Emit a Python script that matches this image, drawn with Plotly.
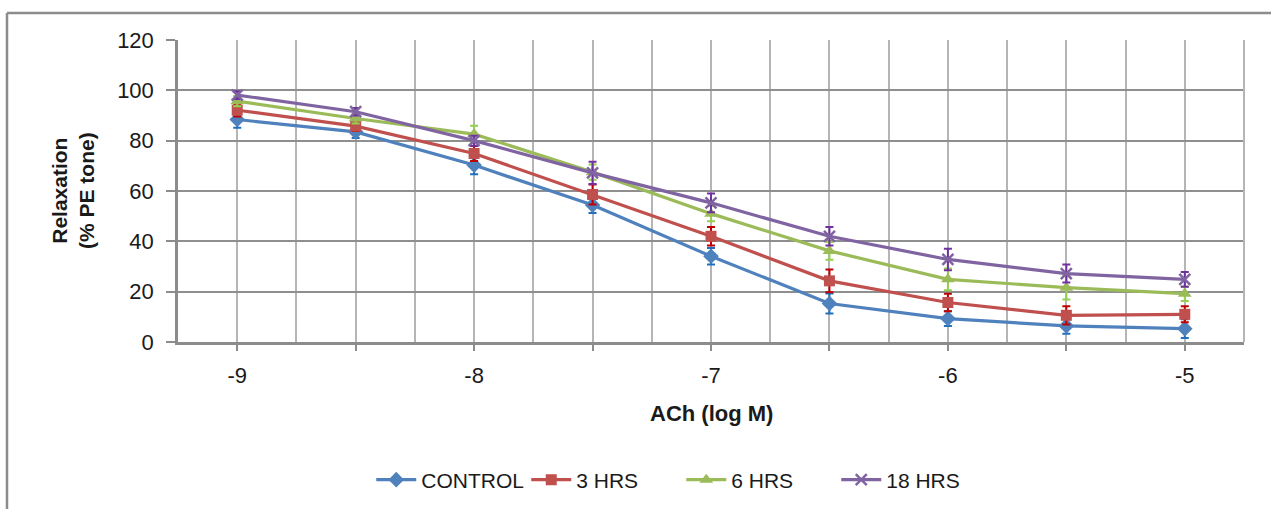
import plotly.graph_objects as go

# ---- data ----
log_m = [-9, -8.5, -8, -7.5, -7, -6.5, -6, -5.5, -5]
series_names = ["CONTROL", "3 HRS", "6 HRS", "18 HRS"]
control = [88.4, 83.5, 70.3, 54.4, 34.1, 15.3, 9.3, 6.4, 5.3]
hrs3 = [92.1, 85.8, 74.9, 58.6, 42.0, 24.3, 15.7, 10.6, 11.0]
hrs6 = [95.7, 88.8, 82.6, 67.5, 51.0, 36.2, 24.9, 21.6, 19.2]
hrs18 = [98.1, 91.5, 80.0, 67.2, 55.3, 42.0, 32.8, 27.2, 24.9]
control_err = [3.3, 2.4, 3.6, 3.1, 3.3, 4.0, 2.9, 3.1, 3.7]
hrs3_err = [2.5, 2.0, 3.0, 4.0, 3.7, 4.5, 3.5, 3.6, 3.2]
hrs6_err = [2.0, 2.0, 3.3, 3.0, 3.0, 3.5, 4.3, 4.7, 2.9]
hrs18_err = [1.5, 1.5, 2.0, 4.4, 3.7, 3.7, 4.3, 3.6, 2.9]
x_tickvals = [-9, -8.5, -8, -7.5, -7, -6.5, -6, -5.5, -5]
x_ticktext = ["-9", "", "-8", "", "-7", "", "-6", "", "-5"]
y_tickvals = [0, 20, 40, 60, 80, 100, 120]

FONT = "Liberation Sans, Arial, sans-serif"

styles = [
    dict(color="#4f81bd", err="#1f6fc0", symbol="diamond", size=12),
    dict(color="#c0504d", err="#c00000", symbol="square", size=11),
    dict(color="#9bbb59", err="#92d050", symbol="triangle-up", size=12),
    dict(color="#8064a2", err="#7030a0", symbol="x-thin", size=11),
]
values = [control, hrs3, hrs6, hrs18]
errors = [control_err, hrs3_err, hrs6_err, hrs18_err]

fig = go.Figure()
for name, vals, errs, st in zip(series_names, values, errors, styles):
    marker = dict(symbol=st["symbol"], size=st["size"], color=st["color"])
    if st["symbol"] == "x-thin":
        marker["line"] = dict(color=st["color"], width=2.5)
    fig.add_trace(go.Scatter(
        x=log_m, y=vals, name=name, mode="lines+markers",
        line=dict(color=st["color"], width=3.2),
        marker=marker,
        error_y=dict(type="data", array=errs, visible=True,
                     color=st["err"], thickness=2, width=4),
    ))

W, H = 1271, 509
ml, mr, mt, mb = 178, 27, 40, 167
pw, ph = W - ml - mr, H - mt - mb


def px_x(p):
    return (p - ml) / pw


def px_y(p):
    return (H - mb - p) / ph


fig.update_layout(
    width=W, height=H, autosize=False,
    margin=dict(l=ml, r=mr, t=mt, b=mb),
    paper_bgcolor="white", plot_bgcolor="white",
    font=dict(family=FONT, size=22, color="#1a1a1a"),
    showlegend=True,
    legend=dict(orientation="h", xref="container", yref="container",
                x=0.536, y=1 - 480 / H, xanchor="center", yanchor="middle",
                font=dict(size=21), itemwidth=40, tracegroupgap=0,
                entrywidth=100, entrywidthmode="pixels"),
    xaxis=dict(range=[-9.25, -4.75], tickvals=x_tickvals, ticktext=x_ticktext,
               showgrid=True, gridcolor="#b5b5b5", gridwidth=2,
               ticks="outside", ticklen=6, tickwidth=2, tickcolor="#8c8c8c",
               showline=True, linecolor="#8c8c8c", linewidth=2.5,
               zeroline=False, ticklabelstandoff=6,
               minor=dict(dtick=0.25, tick0=-9.25, showgrid=True,
                          gridcolor="#b5b5b5", gridwidth=2, ticks="")),
    yaxis=dict(range=[0, 120], tickvals=y_tickvals,
               showgrid=True, gridcolor="#8f8f8f", gridwidth=2,
               ticks="outside", ticklen=9, tickwidth=2, tickcolor="#8c8c8c",
               showline=True, linecolor="#8c8c8c", linewidth=2.5,
               zeroline=False, ticklabelstandoff=8),
    annotations=[
        dict(text="<b>Relaxation<br>(% PE tone)</b>", textangle=-90,
             xref="paper", yref="paper", x=px_x(73), y=px_y(191),
             xanchor="center", yanchor="middle", showarrow=False,
             font=dict(size=21)),
        dict(text="<b>ACh (log M)</b>",
             xref="paper", yref="paper", x=px_x(711), y=px_y(414),
             xanchor="center", yanchor="middle", showarrow=False,
             font=dict(size=22)),
    ],
    shapes=[
        dict(type="line", xref="paper", yref="paper",
             x0=px_x(7), x1=px_x(7), y0=px_y(520), y1=px_y(13),
             line=dict(color="#8c8c8c", width=2.5)),
        dict(type="line", xref="paper", yref="paper",
             x0=px_x(7), x1=px_x(1285), y0=px_y(13), y1=px_y(13),
             line=dict(color="#8c8c8c", width=2.5)),
        dict(type="line", xref="paper", yref="paper",
             x0=1, x1=1, y0=0, y1=1,
             line=dict(color="#b5b5b5", width=2)),
    ],
)

fig.write_html("out.html", config={"displayModeBar": False},
               post_script="document.body.style.margin='0';")
